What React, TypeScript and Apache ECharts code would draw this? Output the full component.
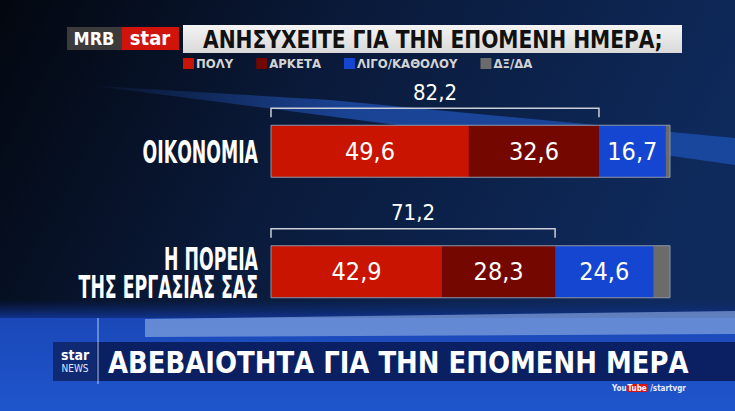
import React, { useEffect, useRef } from "react";
import * as echarts from "echarts";

const categories = ["ΟΙΚΟΝΟΜΙΑ", "Η ΠΟΡΕΙΑ\nΤΗΣ ΕΡΓΑΣΙΑΣ ΣΑΣ"];
const seriesNames = ["ΠΟΛΥ", "ΑΡΚΕΤΑ", "ΛΙΓΟ/ΚΑΘΟΛΟΥ", "ΔΞ/ΔΑ"];
const poly = [49.6, 42.9];
const arketa = [32.6, 28.3];
const ligo = [16.7, 24.6];
const dkna = [1.1, 4.2];
const title = "ΑΝΗΣΥΧΕΙΤΕ ΓΙΑ ΤΗΝ ΕΠΟΜΕΝΗ ΗΜΕΡΑ;";
const banner = "ΑΒΕΒΑΙΟΤΗΤΑ ΓΙΑ ΤΗΝ ΕΠΟΜΕΝΗ ΜΕΡΑ";

const COND = "'DejaVu Sans Condensed', 'Liberation Sans Narrow', 'Roboto', sans-serif";
const colors = ["#c81400", "#740800", "#1446d2", "#6b6b6b"];

const fmt = (v: number) => v.toFixed(1).replace(".", ",");

export default function App() {
  const ref = useRef<HTMLDivElement>(null);
  useEffect(() => {
    if (!ref.current) return;
    const chart = echarts.init(ref.current, null, { renderer: "svg" });
    const all = [poly, arketa, ligo, dkna];
    const bracketData = categories.map((_, i) => [
      poly[i] + arketa[i],
      i,
      poly[i] + arketa[i] + ligo[i] + dkna[i],
    ]);
    const labelData = categories.map((_, i) => [0, i]);
    const barSeries = all.map((arr, k) => ({
      name: seriesNames[k],
      type: "bar",
      stack: "total",
      barWidth: 52,
      data: arr,
      itemStyle: { color: colors[k] },
      label: {
        show: k < 3,
        position: "inside",
        color: "#ffffff",
        fontSize: 25,
        fontFamily: COND,
        formatter: (p: any) => fmt(p.value),
      },
      z: 3,
    }));
    const option: any = {
      animation: false,
      backgroundColor: {
        type: "linear",
        x: 0,
        y: 0,
        x2: 1,
        y2: 0.3,
        colorStops: [
          { offset: 0, color: "#03070f" },
          { offset: 0.45, color: "#0a1a3a" },
          { offset: 1, color: "#0e2a5c" },
        ],
      },
      graphic: [
        // diagonal streak
        {
          type: "polygon",
          z: -10,
          shape: { points: [[95, 86], [330, 100], [735, 138], [735, 165], [560, 140], [420, 128]] },
          style: {
            fill: {
              type: "linear", x: 0, y: 0, x2: 1, y2: 0,
              colorStops: [
                { offset: 0, color: "rgba(40,100,220,0.05)" },
                { offset: 0.4, color: "rgba(40,100,220,0.55)" },
                { offset: 1, color: "rgba(30,90,200,0.6)" },
              ],
            },
          },
        },
        // bottom blue area
        {
          type: "rect",
          z: -10,
          shape: { x: 0, y: 300, width: 735, height: 18 },
          style: {
            fill: {
              type: "linear", x: 0, y: 0, x2: 0, y2: 1,
              colorStops: [
                { offset: 0, color: "rgba(12,42,114,0)" },
                { offset: 1, color: "rgba(16,50,140,1)" },
              ],
            },
          },
        },
        {
          type: "rect",
          z: -10,
          shape: { x: 0, y: 318, width: 735, height: 93 },
          style: {
            fill: {
              type: "linear", x: 0, y: 0, x2: 0, y2: 1,
              colorStops: [
                { offset: 0, color: "#1a48b8" },
                { offset: 1, color: "#1f55cc" },
              ],
            },
          },
        },
        {
          type: "polygon",
          z: -9,
          shape: { points: [[145, 319], [735, 311], [735, 334], [145, 337]] },
          style: { fill: "rgba(150,180,230,0.6)" },
        },
        // banner
        {
          type: "rect",
          shape: { x: 53, y: 342, width: 682, height: 39 },
          style: { fill: "#0b2063" },
        },
        {
          type: "rect",
          shape: { x: 53, y: 342, width: 43, height: 39 },
          style: { fill: "#0f2a72" },
        },
        {
          type: "line",
          shape: { x1: 98, y1: 318, x2: 98, y2: 384 },
          style: { stroke: "rgba(190,215,255,0.9)", lineWidth: 1 },
        },
        {
          type: "text",
          x: 75,
          y: 355,
          style: { text: "star", fill: "#ffffff", font: "bold 14px " + COND, textAlign: "center", textVerticalAlign: "middle" },
        },
        {
          type: "text",
          x: 75,
          y: 368,
          style: { text: "NEWS", fill: "#dfe8ff", font: "10px " + COND, textAlign: "center", textVerticalAlign: "middle" },
        },
        {
          type: "text",
          x: 108,
          y: 362,
          scaleX: 0.93,
          style: {
            text: banner,
            fill: "#ffffff",
            font: "bold 31px " + COND,
            textVerticalAlign: "middle",
          },
        },
        {
          type: "text",
          x: 612,
          y: 388,
          style: {
            text: "{a|You}{b|Tube}{a| /startvgr}",
            rich: {
              a: { fill: "#e8eeff", fontSize: 8, fontFamily: COND, fontWeight: "bold" },
              b: { fill: "#ffffff", backgroundColor: "#d11", fontSize: 8, fontFamily: COND, fontWeight: "bold", borderRadius: 2, padding: [0, 1] },
            },
            textVerticalAlign: "middle",
          },
        },
        // logo
        {
          type: "rect",
          shape: { x: 67, y: 27, width: 55, height: 23 },
          style: { fill: "#3b3b3b" },
        },
        {
          type: "text",
          x: 94,
          y: 38.5,
          style: { text: "MRB", fill: "#ffffff", font: "bold 18px " + COND, textAlign: "center", textVerticalAlign: "middle" },
        },
        {
          type: "rect",
          shape: { x: 122, y: 27, width: 57, height: 23 },
          style: { fill: "#d0140c" },
        },
        {
          type: "text",
          x: 150,
          y: 38,
          style: { text: "star", fill: "#ffffff", font: "bold 20px " + COND, textAlign: "center", textVerticalAlign: "middle" },
        },
        // title box
        {
          type: "rect",
          shape: { x: 183, y: 25, width: 499, height: 28 },
          style: {
            fill: {
              type: "linear", x: 0, y: 0, x2: 0, y2: 1,
              colorStops: [
                { offset: 0, color: "#f4f4f4" },
                { offset: 1, color: "#d9d9d9" },
              ],
            },
          },
        },
        {
          type: "text",
          x: 203,
          y: 40,
          scaleX: 0.9,
          style: {
            text: title,
            fill: "#111111",
            font: "bold 25px " + COND,
            textVerticalAlign: "middle",
          },
        },
      ],
      legend: {
        data: seriesNames,
        left: 183,
        top: 57,
        padding: 0,
        icon: "rect",
        itemWidth: 11,
        itemHeight: 11,
        itemGap: 23,
        textStyle: { color: "#d4d4d4", fontSize: 13, fontWeight: "bold", fontFamily: COND, padding: [0, 0, 0, -3] },
      },
      grid: { left: 271, right: 65, top: 91, bottom: 79, containLabel: false },
      xAxis: { type: "value", min: 0, max: 100, show: false },
      yAxis: {
        type: "category",
        data: categories,
        inverse: true,
        axisLine: { show: false },
        axisTick: { show: false },
        axisLabel: { show: false },
      },
      series: [
        ...barSeries,
        {
          type: "custom",
          name: "catLabels",
          data: labelData,
          encode: { x: 0, y: 1 },
          z: 5,
          renderItem: (params: any, api: any) => {
            const cat = api.value(1);
            const [x0, yc] = api.coord([0, cat]);
            return {
              type: "text",
              x: x0 - 13,
              y: yc + 1,
              scaleX: 0.62,
              style: {
                text: categories[cat],
                fill: "#ffffff",
                font: "bold 31px " + COND,
                lineHeight: 28,
                textAlign: "right",
                textVerticalAlign: "middle",
              },
            };
          },
        },
        {
          type: "custom",
          name: "bracket",
          data: bracketData,
          encode: { x: 0, y: 1 },
          z: 5,
          renderItem: (params: any, api: any) => {
            const cat = api.value(1);
            const [x0, yc] = api.coord([0, cat]);
            const [x1] = api.coord([api.value(0), cat]);
            const [x2] = api.coord([api.value(2), cat]);
            return {
              type: "group",
              children: [
                {
                  type: "rect",
                  shape: { x: x0, y: yc - 26, width: x2 - x0, height: 52 },
                  style: { fill: "none", stroke: "#8c96a6", lineWidth: 1 },
                },
                {
                  type: "polyline",
                  shape: { points: [[x0, yc - 34], [x0, yc - 43], [x1, yc - 43], [x1, yc - 34]] },
                  style: { fill: "none", stroke: "#c9ced8", lineWidth: 1.5 },
                },
                {
                  type: "text",
                  x: (x0 + x1) / 2,
                  y: yc - 59,
                  style: {
                    text: fmt(api.value(0)),
                    fill: "#ffffff",
                    font: "22px " + COND,
                    textAlign: "center",
                    textVerticalAlign: "middle",
                  },
                },
              ],
            };
          },
        },
      ],
    };
    chart.setOption(option);
    return () => chart.dispose();
  }, []);
  return <div ref={ref} style={{ width: 735, height: 411, position: "fixed", left: 0, top: 0 }} />;
}
